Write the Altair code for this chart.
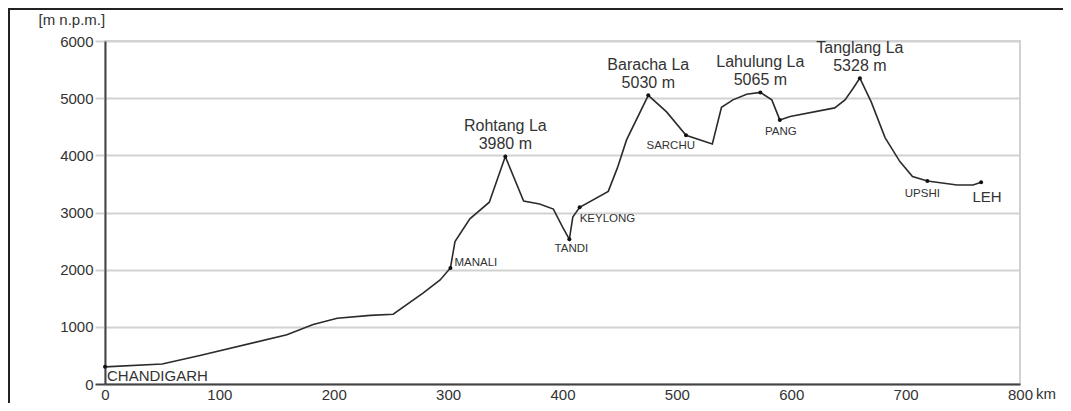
import altair as alt
import pandas as pd

# Elevation profile (km from Chandigarh, metres a.s.l.)
km = [0, 50, 83, 159, 182, 203, 232, 252, 278, 293, 302, 306, 319, 336, 350, 366, 380,
      392, 400, 406, 409, 415, 440, 448, 456, 475, 491, 508, 531, 539, 549, 561, 573,
      583, 590, 599, 638, 647, 654, 660, 670, 682, 695, 706, 719, 745, 759, 766]
elev = [300, 350, 500, 860, 1040, 1150, 1200, 1220, 1590, 1820, 2030, 2490, 2890, 3180, 3980, 3200, 3150,
        3060, 2750, 2530, 2920, 3090, 3370, 3780, 4270, 5050, 4760, 4350, 4200, 4840, 4970, 5070, 5100,
        4970, 4620, 4680, 4830, 4970, 5170, 5350, 4930, 4310, 3890, 3630, 3550, 3480, 3480, 3530]

# Places
place_names = ["CHANDIGARH", "MANALI", "TANDI", "KEYLONG", "SARCHU", "PANG", "UPSHI", "LEH"]
place_km = [0, 302, 406, 415, 508, 590, 719, 766]
place_elev = [300, 2030, 2530, 3090, 4350, 4620, 3550, 3530]

# Passes
pass_names = ["Rohtang La", "Baracha La", "Lahulung La", "Tanglang La"]
pass_heights = ["3980 m", "5030 m", "5065 m", "5328 m"]
pass_km = [350, 475, 573, 660]
pass_elev = [3980, 5050, 5100, 5350]

x_ticks = [0, 100, 200, 300, 400, 500, 600, 700, 800]
y_ticks = [0, 1000, 2000, 3000, 4000, 5000, 6000]

W, H = 915, 343
PAD_T = 33
FONT = "Liberation Sans"
TXT = "#333333"
GRID = "#d2d2d2"
AX = "#444444"

profile = pd.DataFrame({"km": km, "elev": elev})
places = pd.DataFrame({"name": place_names, "km": place_km, "elev": place_elev})
passes = pd.DataFrame({"name": pass_names, "height": pass_heights, "km": pass_km, "elev": pass_elev})

xs = alt.Scale(domain=[0, 800], nice=False, zero=False)
ys = alt.Scale(domain=[0, 6000], nice=False)

x_enc = alt.X("km:Q", scale=xs, axis=alt.Axis(
    values=x_ticks, format="d", title=None, grid=False, ticks=False, domainColor=AX, domainWidth=2,
    labelFont=FONT, labelFontSize=15, labelColor=TXT, labelPadding=3, labelFlush=False))
y_enc = alt.Y("elev:Q", scale=ys, axis=alt.Axis(
    values=y_ticks, format="d", title="[m n.p.m.]", titleAngle=0, titleAlign="left", titleBaseline="alphabetic",
    titleX=-67, titleY=-17, titleFont=FONT, titleFontSize=15, titleFontWeight="normal", titleColor=TXT,
    grid=True, gridColor=GRID, gridWidth=2, domainColor=AX, domainWidth=2,
    tickSize=10, tickWidth=2,
    tickColor=alt.condition("datum.value == 0", alt.value(AX), alt.value(GRID)),
    labelFont=FONT, labelFontSize=15, labelColor=TXT, labelPadding=2, labelFlush=False))

line = alt.Chart(profile).mark_line(color="#2b2b2b", strokeWidth=1.6).encode(x=x_enc, y=y_enc)

pts_places = alt.Chart(places).mark_circle(color="#111111", size=16, opacity=1).encode(x="km:Q", y="elev:Q")
pts_passes = alt.Chart(passes).mark_circle(color="#111111", size=16, opacity=1).encode(x="km:Q", y="elev:Q")

# Pass labels (two lines)
pass_name_txt = alt.Chart(passes).mark_text(
    font=FONT, fontSize=16, color=TXT, align="center", baseline="alphabetic", dy=-25
).encode(x="km:Q", y="elev:Q", text="name:N")
pass_h_txt = alt.Chart(passes).mark_text(
    font=FONT, fontSize=16, color=TXT, align="center", baseline="alphabetic", dy=-7
).encode(x="km:Q", y="elev:Q", text="height:N")

# Place label styles (offsets are styling, not data)
label_style = {
    "CHANDIGARH": dict(align="left", baseline="top", dx=2, dy=2, fontSize=15),
    "MANALI": dict(align="left", baseline="middle", dx=4, dy=-5, fontSize=11.5),
    "TANDI": dict(align="center", baseline="top", dx=2, dy=4, fontSize=11.5),
    "KEYLONG": dict(align="left", baseline="top", dx=0, dy=6, fontSize=11.5),
    "SARCHU": dict(align="right", baseline="top", dx=9, dy=5, fontSize=11.5),
    "PANG": dict(align="center", baseline="top", dx=1, dy=6, fontSize=11.5),
    "UPSHI": dict(align="center", baseline="top", dx=-5, dy=7, fontSize=11.5),
    "LEH": dict(align="center", baseline="top", dx=6, dy=8, fontSize=15),
}
place_txt = []
for n in place_names:
    st = label_style[n]
    place_txt.append(
        alt.Chart(places).transform_filter(alt.datum.name == n).mark_text(
            font=FONT, color=TXT, **st
        ).encode(x="km:Q", y="elev:Q", text="name:N")
    )

km_unit = alt.Chart(pd.DataFrame({"km": [800], "t": ["km"]})).mark_text(
    font=FONT, fontSize=15, color=TXT, align="left", baseline="top", dx=16
).encode(x="km:Q", y=alt.value(H + 3), text="t:N")

frame_top = alt.Chart(pd.DataFrame({"a": [0]})).mark_rule(color="#222222", strokeWidth=2).encode(
    x=alt.value(-96), x2=alt.value(W + 43), y=alt.value(-PAD_T + 1))
frame_left = alt.Chart(pd.DataFrame({"a": [0]})).mark_rule(color="#222222", strokeWidth=2).encode(
    x=alt.value(-96), y=alt.value(-PAD_T), y2=alt.value(H + 20))

chart = alt.layer(
    line, pts_places, pts_passes, pass_name_txt, pass_h_txt, *place_txt, km_unit, frame_top, frame_left
).properties(
    width=W, height=H,
    autosize=alt.AutoSizeParams(type="none"),
    padding={"left": 97, "top": PAD_T, "right": 43, "bottom": 19},
    background="white",
).configure_view(stroke=GRID, strokeWidth=2)

chart.save("out.html", embed_options={"renderer": "svg", "actions": False})
